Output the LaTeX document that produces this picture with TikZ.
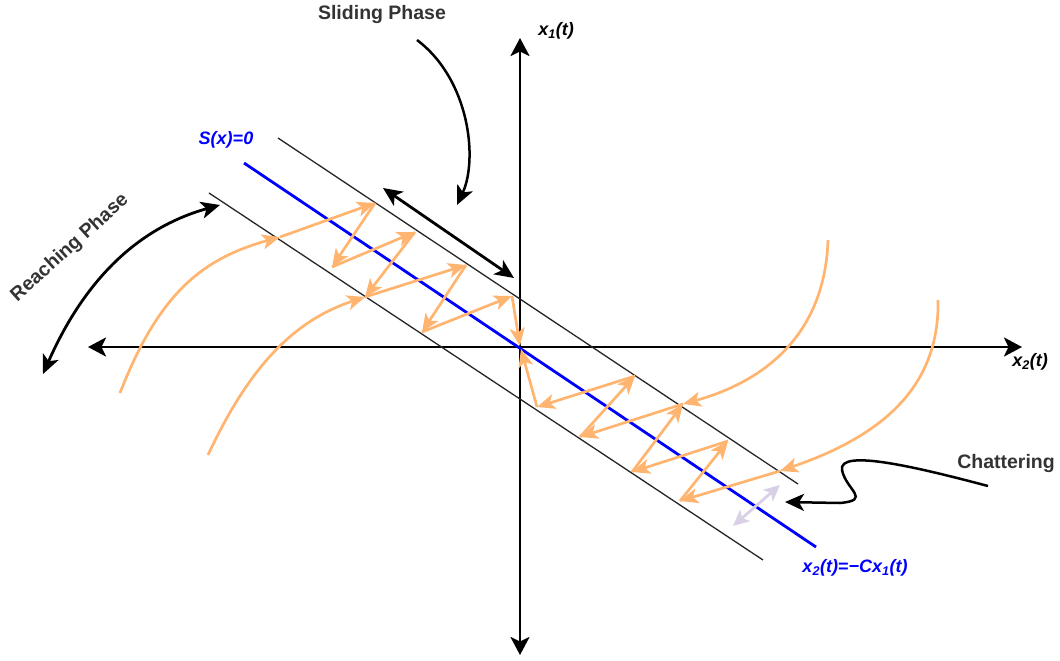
\documentclass[tikz,border=0pt]{standalone}
\usepackage{fontspec}
\setmainfont{Liberation Sans}
\usetikzlibrary{arrows.meta}
\definecolor{trajc}{HTML}{FFB570}
\definecolor{chatc}{HTML}{D9D0E6}
\definecolor{txtc}{HTML}{333333}
\begin{document}
\begin{tikzpicture}[x=1pt,y=-1pt,
  axis/.style={line width=2.8pt, black, {Stealth[length=18pt,width=19pt,inset=4.5pt]}-{Stealth[length=18pt,width=19pt,inset=4.5pt]}},
  band/.style={line width=1.3pt, black!85},
  sline/.style={line width=2.8pt, blue},
  traj/.style={line width=2.7pt, trajc, line join=round, -{Stealth[length=18pt,width=15pt,inset=4.5pt]}},
  phase/.style={line width=2.8pt, black, {Stealth[length=19pt,width=17pt,inset=5pt]}-{Stealth[length=19pt,width=17pt,inset=5pt]}},
  callout/.style={line width=2.5pt, black, -{Stealth[length=19pt,width=17pt,inset=5pt]}},
  lbl/.style={font=\fontsize{19.5}{21}\selectfont\bfseries, text=txtc, inner sep=0pt},
  mlbl/.style={font=\fontsize{18}{20}\selectfont\bfseries\itshape, inner sep=0pt},
]
\useasboundingbox (0,0) rectangle (1060,661);

% axes
\coordinate (yb) at (520,655);
\coordinate (yt) at (520,38);
\coordinate (xl) at (88,347);
\coordinate (xr) at (1022,347);
\draw[axis] (yb) -- (yt);
\draw[axis] (xl) -- (xr);
\node[mlbl] (x1lab) at (556,31) {x\textsubscript{1}(t)};
\node[mlbl] (x2lab) at (1030,362) {x\textsubscript{2}(t)};

% boundary band and sliding surface
\coordinate (ua) at (278,138);
\coordinate (ub) at (798,484);
\coordinate (la) at (209,193);
\coordinate (lb) at (763,560);
\coordinate (sa) at (244,163);
\coordinate (sb) at (816,547);
\draw[band] (ua) -- (ub);
\draw[band] (la) -- (lb);
\draw[sline] (sa) -- (sb);
\node[mlbl, text=blue] (slab) at (226,140) {S(x)=0};
\node[mlbl, text=blue] (elab) at (855,568) {x\textsubscript{2}(t)=−Cx\textsubscript{1}(t)};

% upper-left trajectories
\coordinate (c1s) at (120,393);
\coordinate (c2s) at (208,455);
\coordinate (L0) at (280,237);
\coordinate (U1) at (375,203);
\coordinate (L1) at (332,267);
\coordinate (U2) at (415,232);
\coordinate (L2) at (365,297);
\coordinate (U3) at (466,265);
\coordinate (L3) at (422,332);
\coordinate (U4) at (512,296);
\coordinate (O) at (520,346);
\draw[traj] (c1s) .. controls (160,290) and (205,258) .. (L0);
\draw[traj] (L0) -- (U1);
\draw[traj] (U1) -- (L1);
\draw[traj] (L1) -- (U2);
\draw[traj] (U2) -- (L2);
\draw[traj] (c2s) .. controls (250,365) and (295,320) .. (L2);
\draw[traj] (L2) -- (U3);
\draw[traj] (U3) -- (L3);
\draw[traj] (L3) -- (U4);
\draw[traj] (U4) -- (O);

% lower-right trajectories
\coordinate (c3s) at (828,240);
\coordinate (c4s) at (938,300);
\coordinate (V0) at (780,471);
\coordinate (M1) at (680,501);
\coordinate (V1) at (728,441);
\coordinate (M2) at (632,472);
\coordinate (V2) at (683,404);
\coordinate (M3) at (580,437);
\coordinate (V3) at (635,376);
\coordinate (M4) at (537,407);
\coordinate (O2) at (521,349);
\draw[traj] (c4s) .. controls (940,395) and (870,440) .. (V0);
\draw[traj] (V0) -- (M1);
\draw[traj] (M1) -- (V1);
\draw[traj] (V1) -- (M2);
\draw[traj] (M2) -- (V2);
\draw[traj] (c3s) .. controls (825,330) and (770,380) .. (V2);
\draw[traj] (V2) -- (M3);
\draw[traj] (M3) -- (V3);
\draw[traj] (V3) -- (M4);
\draw[traj] (M4) -- (O2);

% chattering
\coordinate (cha) at (733,526);
\coordinate (chb) at (780,485);
\draw[line width=2.8pt, chatc, {Stealth[length=16pt,width=15pt,inset=4pt]}-{Stealth[length=16pt,width=15pt,inset=4pt]}] (cha) -- (chb);
\node[lbl] (chlab) at (1006,463) {Chattering};
\coordinate (chs) at (988,486);
\coordinate (cht) at (785,502);
\draw[callout] (chs) .. controls (920,468) and (838,448) .. (842,470)
  .. controls (846,490) and (872,500) .. (840,503) -- (cht);

% sliding phase
\node[lbl] (sllab) at (382,15) {Sliding Phase};
\coordinate (sls) at (417,40);
\coordinate (slt) at (457,205);
\draw[callout] (sls) .. controls (470,80) and (478,160) .. (slt);
\coordinate (spa) at (383,188);
\coordinate (spb) at (514,278);
\draw[phase] (spa) -- (spb);

% reaching phase
\node[lbl, rotate=42] (rplab) at (70,248) {Reaching Phase};
\coordinate (rpa) at (43,374);
\coordinate (rpb) at (220,205);
\draw[phase] (rpa) .. controls (80,290) and (130,230) .. (rpb);
\end{tikzpicture}
\end{document}
